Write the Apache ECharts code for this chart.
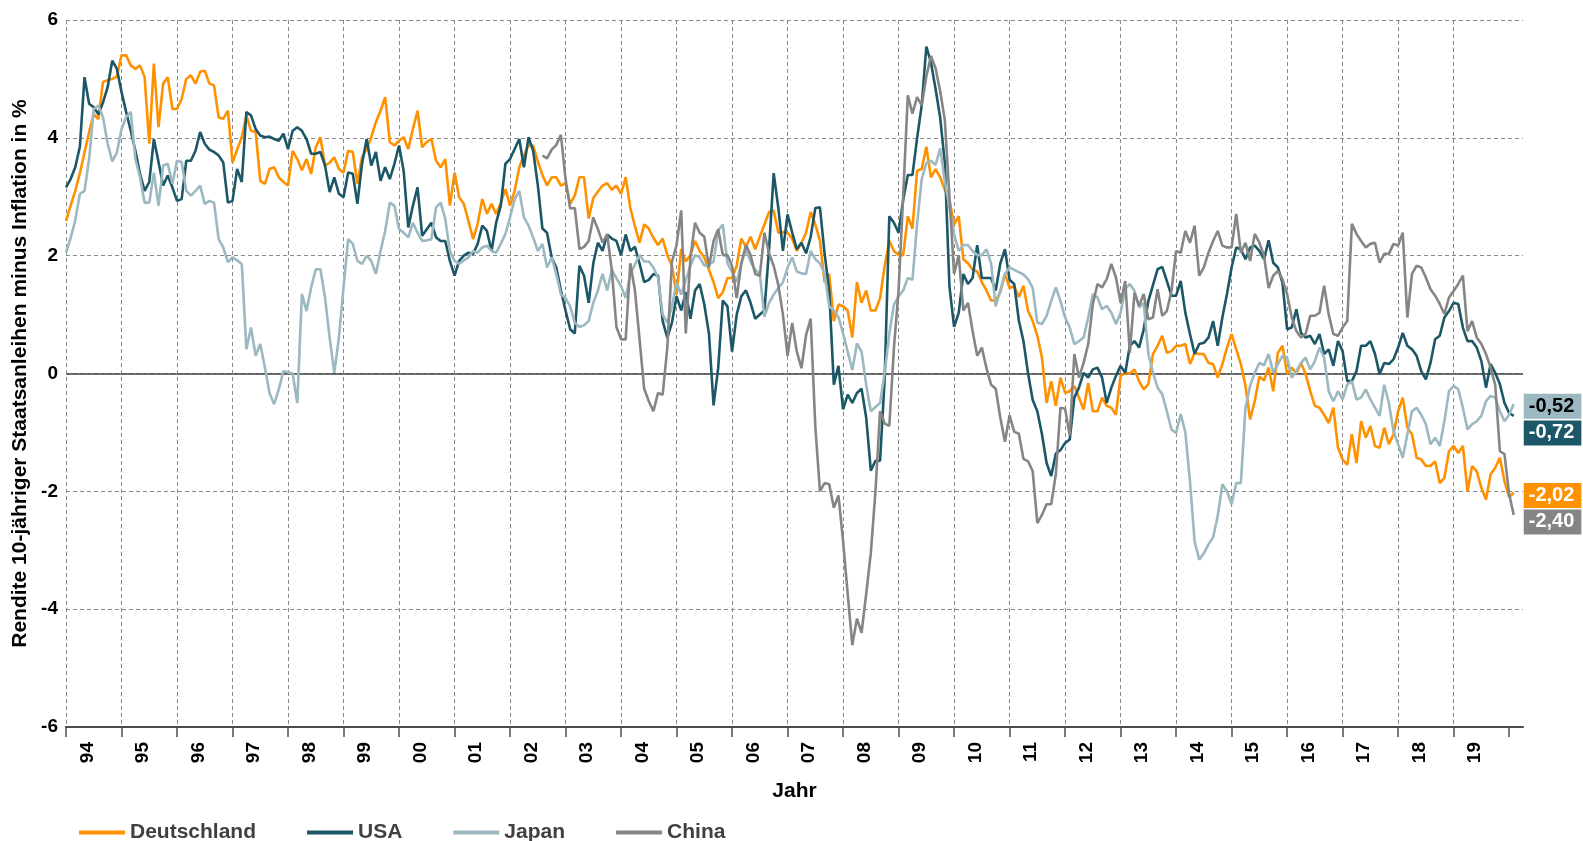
<!DOCTYPE html>
<html>
<head>
<meta charset="utf-8">
<script src="https://cdn.jsdelivr.net/npm/echarts@6/dist/echarts.min.js"></script>
<style>
html,body{margin:0;padding:0;background:#fff;}
#chart{width:1583px;height:841px;}
</style>
</head>
<body>
<div id="chart"></div>
<script>
// Monthly values, January 1994 .. February 2020 (index 0 = Jan 1994)
const YEAR_LABELS = ['94','95','96','97','98','99','00','01','02','03','04','05','06','07','08','09','10','11','12','13','14','15','16','17','18','19'];
const SERIES_NAMES = ['Deutschland','USA','Japan','China'];

const DEUTSCHLAND = [
2.59,2.85,3.1,3.4,3.75,4.1,4.4,4.32,4.95,4.98,5.0,5.04,
5.4,5.4,5.23,5.17,5.23,5.03,3.9,5.26,4.18,4.92,5.03,4.49,
4.49,4.66,5.0,5.06,4.92,5.12,5.14,4.92,4.89,4.35,4.32,4.46,
3.58,3.8,4.01,4.38,4.12,4.1,3.27,3.22,3.47,3.5,3.33,3.25,
3.19,3.78,3.64,3.45,3.64,3.39,3.84,4.01,3.53,3.58,3.67,3.47,
3.41,3.78,3.76,3.22,3.67,3.81,4.01,4.27,4.46,4.69,3.93,3.87,
3.95,4.01,3.81,4.15,4.46,3.84,3.93,3.98,3.61,3.5,3.64,2.85,
3.41,2.99,2.88,2.59,2.28,2.54,2.96,2.71,2.88,2.71,2.9,3.13,
2.85,3.1,3.5,3.7,3.87,3.87,3.6,3.37,3.19,3.33,3.33,3.19,
3.23,2.88,3.02,3.33,3.33,2.63,2.98,3.09,3.19,3.23,3.12,3.19,
3.05,3.33,2.81,2.5,2.22,2.53,2.46,2.3,2.18,2.29,2.01,1.83,
1.34,2.11,1.9,2.01,2.25,2.08,1.97,1.76,1.55,1.28,1.38,1.62,
1.62,1.83,2.29,2.15,2.32,2.11,2.32,2.53,2.74,2.77,2.39,2.4,
2.39,2.29,2.08,2.22,2.39,2.74,2.53,2.25,1.55,1.69,0.89,1.17,
1.14,1.07,0.61,1.55,1.2,1.41,1.07,1.07,1.28,1.83,2.25,2.08,
2.01,2.01,2.67,2.46,3.44,3.47,3.85,3.33,3.47,3.33,3.12,2.95,
2.53,2.67,1.94,1.87,1.76,1.73,1.55,1.41,1.24,1.24,1.38,1.69,
1.45,1.48,1.3,1.49,1.06,0.89,0.64,0.27,-0.5,-0.13,-0.55,-0.07,
-0.33,-0.3,-0.21,-0.41,-0.61,-0.16,-0.64,-0.64,-0.41,-0.55,-0.58,-0.7,
-0.04,0.01,0.0,0.07,-0.13,-0.27,-0.18,0.33,0.47,0.64,0.35,0.38,
0.47,0.47,0.5,0.16,0.35,0.33,0.33,0.18,0.16,-0.07,0.16,0.44,
0.67,0.41,0.16,-0.21,-0.78,-0.47,-0.05,-0.12,0.1,-0.3,0.35,0.47,
-0.01,0.1,0.0,0.18,-0.01,-0.3,-0.55,-0.58,-0.7,-0.84,-0.58,-1.26,
-1.46,-1.55,-1.03,-1.52,-0.81,-1.09,-0.89,-1.23,-1.26,-0.92,-1.2,-1.03,
-0.64,-0.41,-0.92,-1.03,-1.43,-1.46,-1.57,-1.57,-1.49,-1.86,-1.77,-1.32,
-1.23,-1.35,-1.23,-2.0,-1.57,-1.66,-1.94,-2.14,-1.71,-1.6,-1.43,-1.83,
-2.1,-2.02
];

const USA = [
3.16,3.3,3.5,3.85,5.03,4.58,4.52,4.4,4.6,4.86,5.31,5.17,
4.78,4.44,4.12,3.78,3.39,3.1,3.25,3.98,3.59,3.19,3.36,3.16,
2.93,2.96,3.61,3.61,3.78,4.1,3.9,3.8,3.76,3.7,3.58,2.9,
2.93,3.47,3.25,4.44,4.38,4.15,4.04,4.01,4.02,3.98,3.95,4.07,
3.81,4.12,4.18,4.12,3.98,3.73,3.73,3.76,3.53,3.08,3.33,3.05,
2.99,3.41,3.39,2.88,3.56,3.98,3.53,3.76,3.27,3.5,3.3,3.56,
3.87,3.44,2.48,2.85,3.16,2.34,2.45,2.56,2.31,2.25,2.25,1.91,
1.66,1.91,2.0,2.05,2.03,2.2,2.51,2.42,2.08,2.56,2.85,3.56,
3.64,3.81,3.98,3.5,4.01,3.78,3.2,2.46,2.39,1.97,1.8,1.41,
1.07,0.75,0.68,1.83,1.66,1.2,1.87,2.22,2.08,2.36,2.29,2.25,
2.01,2.36,2.08,2.15,1.87,1.55,1.59,1.69,1.66,0.89,0.61,0.86,
1.31,1.07,1.38,0.93,1.41,1.52,1.17,0.68,-0.54,0.09,1.24,1.14,
0.37,1.0,1.31,1.41,1.2,0.93,1.0,1.07,2.11,3.4,2.81,2.08,
2.7,2.39,2.11,2.22,2.04,2.32,2.81,2.82,2.04,1.41,-0.19,0.13,
-0.61,-0.36,-0.5,-0.33,-0.26,-0.75,-1.65,-1.48,-1.48,-0.08,2.67,2.56,
2.39,2.95,3.37,3.37,3.99,4.55,5.55,5.28,4.83,4.34,3.57,1.48,
0.79,1.03,1.69,1.52,1.62,2.18,1.62,1.62,1.62,1.41,1.87,2.11,
1.59,1.52,0.9,0.55,0.0,-0.45,-0.64,-1.03,-1.52,-1.74,-1.36,-1.3,
-1.18,-1.12,-0.41,-0.24,0.01,-0.07,0.07,0.1,-0.07,-0.5,-0.24,-0.04,
0.13,0.01,0.47,0.55,0.44,0.75,1.23,1.5,1.77,1.81,1.57,1.32,
1.32,1.57,1.03,0.67,0.33,0.5,0.52,0.61,0.89,0.47,0.95,1.35,
1.8,2.14,2.11,1.94,2.14,2.17,2.08,1.94,2.26,1.88,1.8,1.54,
0.75,0.78,1.09,0.69,0.61,0.64,0.5,0.67,0.33,0.41,0.13,0.55,
0.38,-0.13,-0.13,0.04,0.47,0.47,0.55,0.33,-0.01,0.18,0.16,0.24,
0.44,0.69,0.47,0.41,0.3,0.04,-0.1,0.18,0.58,0.64,0.95,1.06,
1.2,1.18,0.78,0.55,0.55,0.44,0.21,-0.24,0.16,0.01,-0.18,-0.5,
-0.67,-0.72
];

const JAPAN = [
2.05,2.3,2.6,3.05,3.1,3.64,4.49,4.55,4.35,3.9,3.6,3.75,
4.15,4.35,4.44,3.64,3.33,2.9,2.9,3.41,2.85,3.53,3.56,3.22,
3.61,3.59,3.1,3.02,3.1,3.19,2.88,2.93,2.9,2.28,2.14,1.89,
1.97,1.92,1.86,0.41,0.78,0.3,0.5,0.1,-0.33,-0.52,-0.27,0.04,
0.02,0.0,-0.5,1.35,1.06,1.46,1.77,1.77,1.29,0.61,0.01,0.61,
1.46,2.28,2.2,1.91,1.86,2.0,1.91,1.69,2.08,2.42,2.9,2.85,
2.45,2.39,2.31,2.56,2.39,2.25,2.26,2.28,2.82,2.9,2.62,2.08,
1.91,1.86,1.92,1.97,2.08,2.05,2.14,2.17,2.08,2.05,2.2,2.37,
2.65,2.96,3.1,2.65,2.51,2.31,2.08,2.2,1.8,1.97,1.69,1.34,
1.28,1.14,0.86,0.79,0.82,0.89,1.2,1.41,1.69,1.41,1.76,1.62,
1.48,1.28,1.69,1.85,2.01,1.9,1.9,1.8,1.62,1.0,0.86,1.14,
1.55,1.34,1.59,1.83,2.01,1.97,1.83,1.85,1.9,2.43,2.53,1.87,
1.73,1.55,1.87,2.11,1.9,1.76,1.69,0.96,1.2,1.34,1.45,1.55,
1.8,1.97,1.73,1.7,1.69,2.08,1.94,1.87,1.69,1.14,1.07,0.96,
0.68,0.37,0.06,0.51,0.37,-0.19,-0.64,-0.57,-0.5,0.02,0.68,1.17,
1.31,1.41,1.62,1.59,2.53,3.3,3.57,3.61,3.54,3.82,3.26,2.81,
2.36,2.08,2.18,2.18,2.08,2.01,2.01,2.11,1.87,1.14,1.41,1.69,
1.8,1.76,1.72,1.68,1.6,1.45,0.86,0.84,0.98,1.23,1.46,1.23,
0.95,0.78,0.5,0.55,0.61,0.95,1.35,1.29,1.09,1.15,1.03,0.84,
1.03,1.43,1.52,1.4,1.12,1.2,0.33,0.01,-0.24,-0.35,-0.64,-0.95,
-1.01,-0.69,-1.0,-1.83,-2.85,-3.16,-3.05,-2.9,-2.78,-2.42,-1.88,-2.0,
-2.22,-1.86,-1.86,-0.58,-0.21,0.01,0.18,0.14,0.33,0.01,0.16,0.3,
0.27,-0.07,0.04,0.18,0.27,0.07,0.21,0.44,0.27,-0.3,-0.47,-0.3,
-0.44,-0.19,-0.13,-0.44,-0.41,-0.27,-0.44,-0.58,-0.72,-0.19,-0.5,-0.98,
-1.2,-1.43,-1.03,-0.64,-0.58,-0.7,-0.86,-1.2,-1.09,-1.23,-0.81,-0.3,
-0.21,-0.27,-0.58,-0.95,-0.86,-0.81,-0.72,-0.47,-0.38,-0.41,-0.64,-0.81,
-0.7,-0.52
];

// China series starts in August 2002 (month index 103)
const CHINA_START = 103;
const CHINA = [
3.7,3.65,3.8,3.88,4.05,
3.3,2.8,2.81,2.11,2.15,2.25,2.65,2.45,2.22,2.36,1.76,0.79,
0.58,0.58,1.87,1.41,0.58,-0.26,-0.47,-0.64,-0.33,-0.36,0.44,1.9,
2.18,2.77,0.68,1.97,2.56,2.39,2.32,1.8,2.25,2.45,2.01,2.01,
1.83,1.28,1.87,2.18,2.01,1.69,1.66,2.39,2.04,1.83,1.5,1.0,
0.3,0.86,0.37,0.09,0.65,0.93,-0.9,-2.0,-1.86,-1.88,-2.28,-2.07,
-2.84,-3.74,-4.61,-4.16,-4.4,-3.74,-3.05,-2.0,-0.64,-0.85,-0.89,0.44,
1.41,3.02,4.72,4.41,4.69,4.55,5.04,5.39,5.18,4.79,4.3,3.0,
1.69,2.01,1.07,1.2,0.72,0.3,0.44,0.09,-0.19,-0.26,-0.75,-1.16,
-0.71,-0.99,-1.02,-1.45,-1.49,-1.66,-2.54,-2.4,-2.22,-2.22,-1.71,-0.58,
-0.6,-1.05,0.33,-0.07,0.18,0.5,1.18,1.52,1.46,1.6,1.86,1.63,
1.2,1.57,0.35,1.37,1.15,1.35,0.92,0.95,1.43,0.98,1.06,1.4,
2.08,2.05,2.42,2.22,2.51,1.66,1.8,2.05,2.25,2.42,2.17,2.14,
2.14,2.71,2.05,2.22,1.91,2.37,2.22,2.0,1.45,1.66,1.74,1.6,
1.35,0.95,0.72,0.61,0.67,0.98,0.98,1.03,1.49,1.0,0.67,0.64,
0.78,0.89,2.54,2.37,2.25,2.14,2.2,2.22,1.88,2.03,2.03,2.2,
2.17,2.39,0.95,1.69,1.83,1.8,1.63,1.43,1.32,1.18,1.01,1.29,
1.4,1.52,1.66,0.72,0.89,0.61,0.5,0.33,0.1,-0.2,-1.32,-1.37,
-2.05,-2.4
];

const COLORS = ['#FF9100','#1B5767','#9CB8C0','#858585'];
const LABEL_TEXT = ['#ffffff','#ffffff','#000000','#ffffff'];
const LABEL_DY = [3,17,2,7];
const FONT = "'Liberation Sans', Arial, sans-serif";

const toPairs = (arr, start) => arr.map((v, i) => [i + start, v]);
const seriesData = [toPairs(DEUTSCHLAND,0), toPairs(USA,0), toPairs(JAPAN,0), toPairs(CHINA,CHINA_START)];

const tickValues = YEAR_LABELS.map((_, k) => k * 12).concat([YEAR_LABELS.length * 12]);
const labelValues = YEAR_LABELS.map((_, k) => k * 12 + 4.6);

const chart = echarts.init(document.getElementById('chart'), null, {renderer:'canvas'});

const series = SERIES_NAMES.map((name, s) => ({
  name: name,
  type: 'line',
  data: seriesData[s],
  showSymbol: false,
  symbol: 'none',
  z: 3 + s,
  lineStyle: {color: COLORS[s], width: 2.6},
  itemStyle: {color: COLORS[s]},
  endLabel: {
    show: true,
    distance: 10,
    offset: [0, LABEL_DY[s]],
    formatter: p => p.value[1].toFixed(2).replace('.', ','),
    color: LABEL_TEXT[s],
    backgroundColor: COLORS[s],
    padding: [3, 7, 2, 5],
    fontSize: 20,
    fontWeight: 'bold',
    fontFamily: FONT
  }
}));

chart.setOption({
  animation: false,
  textStyle: {fontFamily: FONT},
  grid: {left: 66, right: 60, top: 20, bottom: 114},
  legend: {
    data: SERIES_NAMES,
    left: 74, top: 817,
    icon: 'rect', itemWidth: 46, itemHeight: 4, itemGap: 51,
    textStyle: {fontSize: 21, fontWeight: 'bold', color: '#404040', fontFamily: FONT}
  },
  xAxis: {
    type: 'value', min: 0, max: 315, interval: 12,
    name: 'Jahr', nameLocation: 'middle', nameGap: 54,
    nameTextStyle: {fontSize: 21, fontWeight: 'bold', color: '#000', fontFamily: FONT},
    axisLine: {show: true, onZero: false, lineStyle: {color: '#4d4d4d', width: 2}},
    axisTick: {show: true, customValues: tickValues, length: 10, lineStyle: {color: '#4d4d4d', width: 1.5}},
    axisLabel: {
      customValues: labelValues, rotate: 90, margin: 15,
      formatter: v => YEAR_LABELS[Math.floor(v / 12)] || '',
      fontSize: 19, fontWeight: 'bold', color: '#000', fontFamily: FONT
    },
    splitLine: {show: true, showMinLine: true, showMaxLine: false, lineStyle: {color: '#8a8a8a', type: [4, 3], width: 1}}
  },
  yAxis: [{
    type: 'value', min: -6, max: 6, interval: 2,
    name: 'Rendite 10-jähriger Staatsanleihen minus Inflation in %',
    nameLocation: 'middle', nameRotate: 90, nameGap: 33,
    nameTextStyle: {fontSize: 21, fontWeight: 'bold', color: '#000', fontFamily: FONT},
    axisLine: {show: false}, axisTick: {show: false},
    axisLabel: {fontSize: 19, fontWeight: 'bold', color: '#000', margin: 8, fontFamily: FONT},
    splitLine: {show: true, showMinLine: false, lineStyle: {color: '#8a8a8a', type: [4, 3], width: 1}}
  }, {
    type: 'value', min: -6, max: 6, interval: 6, position: 'left',
    axisLine: {show: false}, axisTick: {show: false}, axisLabel: {show: false},
    splitLine: {show: true, showMinLine: false, showMaxLine: false, lineStyle: {color: '#404040', type: 'solid', width: 1.5}}
  }],
  series: series
});
</script>
</body>
</html>
